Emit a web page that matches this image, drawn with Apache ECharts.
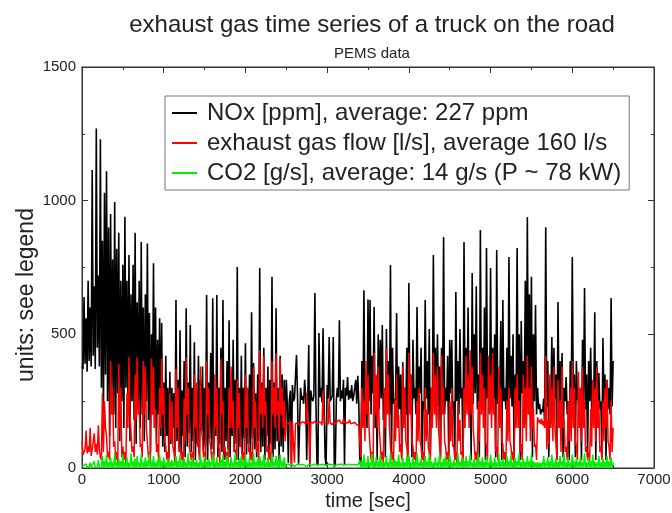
<!DOCTYPE html>
<html>
<head>
<meta charset="utf-8">
<script src="https://cdn.jsdelivr.net/npm/echarts@6/dist/echarts.min.js"></script>
<style>
html,body{margin:0;padding:0;background:#fff}
#chart{width:672px;height:513px}
</style>
</head>
<body>
<div id="chart"></div>
<script>
// one "peak" value at every T_STEP seconds and one "dip" value half a step later
var T_STEP = 25;

// NOx [ppm]
var noxValues = [
  380,640,560,700,600,1115,680,1270,720,1230,850,1030,1110,900,950,780,995,820,880,700,
  760,940,700,797,650,760,880,620,700,845,600,650,840,580,500,766,600,480,560,542,
  320,420,300,360,300,280,628,330,515,290,400,598,320,535,300,470,280,420,330,380,
  300,647,320,430,635,280,647,300,450,628,300,400,553,320,480,330,752,300,420,300,
  467,300,350,583,393,280,350,748,320,450,300,380,330,715,320,598,300,420,350,330,
  330,20,290,310,260,423,10,300,270,330,30,460,290,250,655,20,505,300,523,40,
  310,490,260,490,15,300,553,290,330,300,340,290,310,270,330,345,20,400,665,350,
  630,628,420,602,300,500,480,535,280,520,400,759,450,250,580,380,350,396,300,450,
  692,350,480,300,602,380,450,250,628,400,520,300,797,450,500,380,450,864,300,420,
  480,479,250,658,400,520,300,845,450,600,400,729,500,680,350,890,450,600,823,400,
  748,450,500,815,350,550,628,300,450,789,420,500,350,823,500,550,400,700,939,650,
  715,500,610,300,240,220,260,901,400,300,490,450,350,621,400,430,300,340,250,400,
  789,350,400,250,300,480,673,350,400,450,300,583,400,355,250,486,350,330,300,636,400
];
var noxDips = [
  370,390,360,400,380,420,370,450,380,300,180,350,250,120,300,200,150,280,100,250,
  150,300,200,100,250,180,90,220,150,200,100,250,180,60,200,150,90,200,120,80,
  60,120,40,90,150,30,100,70,50,120,40,80,130,60,100,30,90,50,140,60,
  80,30,110,70,50,120,40,90,60,30,100,70,40,120,60,90,30,80,50,110,
  50,90,30,110,70,40,100,60,80,30,120,50,90,40,70,100,30,80,60,120,
  240,255,5,250,260,270,10,255,240,265,250,5,260,270,250,10,265,245,255,8,
  260,250,270,5,255,265,250,260,10,270,255,260,250,265,240,245,10,200,250,150,
  250,200,280,150,30,220,260,180,40,250,200,30,240,260,150,220,40,250,200,30,
  250,40,260,200,240,280,40,220,260,200,30,240,280,200,230,40,260,200,250,40,
  280,220,30,250,200,260,40,230,260,200,30,240,280,220,40,250,220,30,260,230,
  220,260,40,240,280,30,250,220,200,260,230,40,250,220,30,280,240,200,260,220,
  40,250,200,220,200,210,150,230,40,250,200,260,30,240,220,40,250,200,30,230,
  250,40,260,200,30,240,220,40,250,200,230,30,250,220,40,240,30,220,200,230,60
];

// exhaust gas flow [l/s]
var flowValues = [
  100,60,140,80,150,70,130,90,160,40,280,250,120,60,400,300,100,60,390,300,
  80,60,280,415,200,80,350,415,250,90,400,380,100,60,410,380,220,90,300,410,
  300,80,60,280,250,60,370,300,80,60,260,415,300,80,60,350,320,90,380,100,
  60,400,300,80,60,350,300,70,410,250,80,60,300,380,250,70,330,280,90,60,
  350,300,80,60,380,250,90,440,300,420,250,80,60,400,300,430,250,410,300,250,
  170,165,175,170,20,170,175,168,172,170,280,175,170,168,175,165,172,170,290,168,
  170,260,175,170,165,175,180,172,185,178,175,180,172,175,170,165,100,300,250,400,
  350,80,60,430,350,380,90,60,300,450,350,80,60,250,350,200,90,380,300,80,
  430,350,80,60,250,300,80,60,300,220,80,300,430,350,380,90,420,300,80,60,
  250,300,90,60,250,180,60,300,420,350,440,380,90,60,250,430,350,300,80,420,
  350,430,250,80,380,300,90,60,250,300,80,60,300,350,250,90,350,300,420,300,
  380,220,90,190,180,185,175,420,180,350,300,380,90,330,250,380,180,80,250,300,
  400,300,80,360,300,380,250,80,60,220,330,300,380,250,80,250,300,330,80,250,150
];
var flowDips = [
  50,70,55,60,45,75,60,50,70,30,60,150,40,30,200,80,30,20,150,40,
  30,20,150,200,60,40,180,200,80,40,200,150,40,20,200,150,60,30,150,200,
  100,30,20,100,80,20,150,60,30,20,100,200,80,30,20,150,80,30,150,40,
  20,200,100,30,20,150,80,20,200,60,30,20,150,150,60,30,150,80,30,20,
  150,60,30,20,150,60,30,200,150,200,60,30,20,200,150,200,100,200,150,100,
  165,160,10,168,165,170,160,165,168,162,165,10,168,165,170,162,165,160,168,165,
  165,168,162,170,165,168,170,165,172,168,170,165,168,170,162,160,40,150,100,200,
  150,30,20,200,150,150,30,20,150,200,150,30,20,100,150,60,30,150,100,30,
  200,100,30,20,100,100,30,20,100,80,30,150,200,150,150,30,200,100,30,20,
  100,80,30,20,100,50,20,150,200,150,200,150,30,20,100,200,150,100,30,200,
  150,200,60,30,150,100,30,20,100,100,30,20,150,150,60,30,150,100,200,100,
  150,80,30,170,165,160,150,70,90,150,100,150,30,150,60,150,60,30,100,100,
  150,100,30,150,100,150,60,30,20,80,150,100,150,60,30,100,150,100,30,60,70
];

// CO2 [g/s]
var co2Values = [
  5,10,15,8,20,12,25,10,30,5,45,25,50,20,40,20,55,22,35,25,
  50,20,40,20,55,25,35,45,20,50,20,40,25,55,25,45,20,30,50,25,
  40,20,35,25,30,22,45,25,50,20,35,20,55,25,40,22,30,20,50,20,
  45,25,35,22,55,20,40,20,30,50,25,45,20,40,20,55,22,35,45,25,
  50,20,40,20,55,22,35,45,25,50,20,40,20,55,22,45,30,50,25,40,
  12,15,10,14,5,12,15,11,13,10,5,14,12,11,15,9,13,12,14,10,
  12,15,11,13,8,14,12,15,10,13,12,14,11,13,12,10,30,25,50,20,
  45,20,55,22,40,25,50,25,20,45,20,55,22,35,25,50,20,40,20,45,
  50,20,40,25,55,20,35,22,45,25,50,25,20,40,20,55,22,35,45,25,
  50,20,30,20,55,22,40,25,45,25,50,20,35,20,55,25,40,22,45,20,
  50,20,40,20,55,25,35,22,45,25,50,20,40,25,55,20,35,22,45,25,
  50,25,20,22,18,20,45,20,40,25,50,20,35,22,45,25,55,20,40,20,
  50,25,35,22,45,20,55,20,40,25,50,25,20,45,20,35,22,45,25,40,20
];
var co2Dips = [
  2,4,3,5,2,6,3,4,2,5,0,3,1,4,2,0,5,1,3,2,
  0,4,1,3,5,0,2,4,1,3,0,2,5,1,3,0,4,2,1,3,
  2,0,4,1,3,5,0,2,4,1,3,0,5,2,1,4,0,3,2,1,
  4,0,3,5,1,2,0,4,3,1,2,5,0,3,1,4,2,0,3,1,
  3,0,2,4,1,5,0,3,2,1,4,0,2,3,5,1,0,4,2,3,
  8,9,7,10,8,9,8,7,10,9,8,9,7,8,10,9,8,7,9,8,
  8,9,10,8,7,9,8,10,9,8,7,9,8,10,9,8,2,0,4,1,
  3,5,0,2,4,1,3,0,5,2,1,4,0,3,2,1,4,0,3,2,
  1,3,0,4,2,5,1,0,3,2,4,1,0,5,3,2,0,4,1,3,
  2,0,5,1,3,4,0,2,1,3,5,0,2,4,1,3,0,2,5,1,
  3,0,4,2,1,5,0,3,2,4,1,0,3,5,2,1,4,0,3,2,
  0,4,1,2,1,3,2,5,0,3,1,4,2,0,5,3,1,2,0,4,
  2,0,4,1,3,5,0,2,4,1,3,0,5,2,1,4,0,3,2,1,0
];

var seriesNames = [
  'NOx [ppm], average: 227 ppm',
  'exhaust gas flow [l/s], average 160 l/s',
  'CO2 [g/s], average: 14 g/s (P ~ 78 kW)'
];
var seriesColors = ['#000000', '#ff0000', '#00ee00'];
var seriesWidths = [1.6, 1.5, 1.5];

var FONT = '"Liberation Sans", Arial, Helvetica, sans-serif';

function toPairs(values, dips) {
  var out = [];
  for (var i = 0; i < values.length; i++) {
    out.push([i * T_STEP, values[i]]);
    if (i < values.length - 1 && dips[i] != null) {
      out.push([i * T_STEP + T_STEP / 2, dips[i]]);
    }
  }
  return out;
}

var chart = echarts.init(document.getElementById('chart'), null, { renderer: 'canvas' });

function plainLabel(v) { return String(v); }

function xAxisDef(pos, labels) {
  return {
    type: 'value', position: pos, min: 0, max: 7000, interval: 1000,
    axisLine: { show: true, onZero: false, lineStyle: { color: '#333', width: 1 } },
    axisTick: { show: true, inside: true, length: 6, lineStyle: { color: '#333' } },
    minorTick: { show: true, splitNumber: 2, length: 3, lineStyle: { color: '#333' } },
    splitLine: { show: false },
    axisLabel: { show: labels, color: '#222', fontSize: 15, fontFamily: FONT, margin: 4, formatter: plainLabel }
  };
}
function yAxisDef(pos, labels) {
  return {
    type: 'value', position: pos, min: 0, max: 1500, interval: 500,
    axisLine: { show: true, onZero: false, lineStyle: { color: '#333', width: 1 } },
    axisTick: { show: true, inside: true, length: 6, lineStyle: { color: '#333' } },
    minorTick: { show: true, splitNumber: 2, length: 3, lineStyle: { color: '#333' } },
    splitLine: { show: false },
    axisLabel: { show: labels, color: '#222', fontSize: 15, fontFamily: FONT, margin: 6, formatter: plainLabel }
  };
}

var xBottom = xAxisDef('bottom', true);
xBottom.name = 'time [sec]';
xBottom.nameLocation = 'middle';
xBottom.nameGap = 15;
xBottom.nameTextStyle = { color: '#222', fontSize: 20, fontFamily: FONT };

var series = [
  [noxValues, noxDips], [flowValues, flowDips], [co2Values, co2Dips]
].map(function (pair, k) {
  return {
    name: seriesNames[k],
    type: 'line',
    data: toPairs(pair[0], pair[1]),
    showSymbol: false,
    symbol: 'none',
    sampling: null,
    lineStyle: { color: seriesColors[k], width: seriesWidths[k] },
    itemStyle: { color: seriesColors[k] },
    z: 2 + k
  };
});

var option = {
  animation: false,
  backgroundColor: '#fff',
  title: {
    text: 'exhaust gas time series of a truck on the road',
    subtext: 'PEMS data',
    left: 367, top: 8, textAlign: 'center',
    itemGap: 9,
    textStyle: { color: '#222', fontSize: 24, fontWeight: 'normal', fontFamily: FONT },
    subtextStyle: { color: '#222', fontSize: 15, fontFamily: FONT }
  },
  legend: {
    data: seriesNames,
    orient: 'vertical',
    left: 165, top: 96,
    padding: [5, 8, 5, 7],
    itemGap: 6,
    itemWidth: 25, itemHeight: 2,
    icon: 'rect',
    backgroundColor: '#fff',
    borderColor: '#777', borderWidth: 1,
    textStyle: { color: '#222', fontSize: 24, fontFamily: FONT, padding: [0, 0, 0, 5] },
    selectedMode: false
  },
  grid: {
    left: 82, right: 18, top: 67, bottom: 45,
    containLabel: false, outerBoundsMode: 'none',
    show: true, borderColor: '#333', borderWidth: 1
  },
  xAxis: [xBottom, xAxisDef('top', false)],
  yAxis: [yAxisDef('left', true), yAxisDef('right', false)],
  graphic: [{
    type: 'text',
    x: 27, y: 295,
    rotation: Math.PI / 2,
    style: {
      text: 'units: see legend',
      fill: '#222', fontSize: 23, fontFamily: FONT,
      align: 'center', verticalAlign: 'middle'
    }
  }],
  series: series
};

chart.setOption(option);
</script>
</body>
</html>
